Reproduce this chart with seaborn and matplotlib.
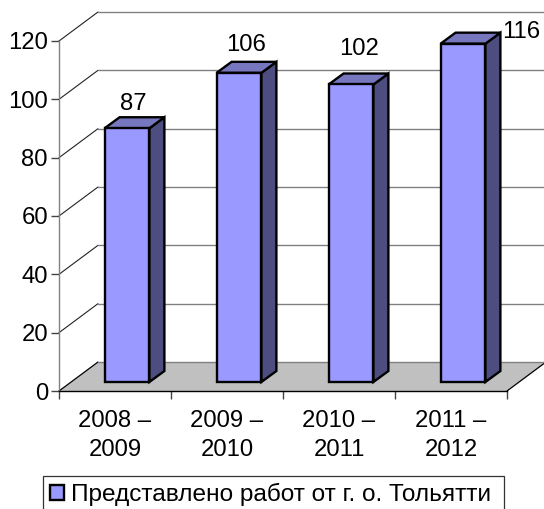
import matplotlib
matplotlib.use('Agg')
import matplotlib.pyplot as plt
import pandas as pd
import seaborn as sns
from matplotlib.patches import Patch, Polygon, Rectangle
from matplotlib.transforms import Affine2D, IdentityTransform

# Chart values
SEASONS = ['2008 –\n2009', '2009 –\n2010', '2010 –\n2011', '2011 –\n2012']
WORKS = [87, 106, 102, 116]
Y_TICKS = [0, 20, 40, 60, 80, 100, 120]
SERIES_NAME = 'Представлено работ от г. о. Тольятти'

# Fake 3D look, in pixels
WALL_DX, WALL_DY = 39, 29
BAR_DX, BAR_DY = 12, 9
DEPTH_DX, DEPTH_DY = 15, 11
LABEL_SHIFT = [(6, 24), (7, 28), (8, 35), (58, 12)]

FRONT = '#9999FF'
TOP = '#7777C0'
SIDE = '#4D4D80'
FLOOR = '#C0C0C0'
GRID = '#808080'
FONT_SIZE = 17.2

W, H = 544, 509


def shifted(ax, x, y, dx, dy):
    px, py = ax.transData.transform((x, y))
    return px + dx, py + dy


def pixel_poly(ax, points, **kwargs):
    ax.add_patch(Polygon(points, closed=True, transform=IdentityTransform(), clip_on=False, **kwargs))


def pixel_line(ax, p1, p2, **kwargs):
    ax.plot([p1[0], p2[0]], [p1[1], p2[1]], transform=IdentityTransform(), clip_on=False,
            scalex=False, scaley=False, **kwargs)


def main():
    sns.set_style('white')
    plt.rcParams['font.family'] = ['Liberation Sans', 'DejaVu Sans']

    fig = plt.figure(figsize=(W / 100, H / 100), dpi=100)
    ax = fig.add_axes([59 / W, (H - 391) / H, 448 / W, 350 / H])
    ax.patch.set_alpha(0)

    data = pd.DataFrame({'season': SEASONS, 'works': WORKS})
    sns.barplot(data=data, x='season', y='works', width=0.4, color=FRONT, saturation=1, ax=ax, zorder=5)
    ax.set_xlim(-0.5, 3.5)
    ax.set_ylim(0, 120)
    fig.canvas.draw()

    # floor
    a = shifted(ax, -0.5, 0, 0, 0)
    b = shifted(ax, 3.5, 0, 0, 0)
    c = shifted(ax, 3.5, 0, WALL_DX, WALL_DY)
    d = shifted(ax, -0.5, 0, WALL_DX, WALL_DY)
    pixel_poly(ax, [a, b, c, d], facecolor=FLOOR, edgecolor='none', zorder=1)
    pixel_line(ax, b, c, color='black', lw=0.9, zorder=2)
    pixel_line(ax, a, d, color='black', lw=0.9, zorder=2)
    pixel_line(ax, d, c, color=GRID, lw=1.0, zorder=2)

    # walls
    for t in Y_TICKS[1:]:
        p0 = shifted(ax, -0.5, t, 0, 0)
        p1 = shifted(ax, -0.5, t, WALL_DX, WALL_DY)
        p2 = shifted(ax, 3.5, t, WALL_DX, WALL_DY)
        pixel_line(ax, p0, p1, color='#222222', lw=0.8, zorder=2)
        pixel_line(ax, p1, p2, color=GRID, lw=1.0, zorder=2)

    # bars: move the front faces off the axis plane, then add top and side
    offset = ax.transData + Affine2D().translate(BAR_DX, BAR_DY)
    for i, bar in enumerate(ax.patches[:len(WORKS)]):
        bar.set_transform(offset)
        bar.set_edgecolor('black')
        bar.set_linewidth(1.7)
        bar.set_clip_on(False)
        x0, x1 = bar.get_x(), bar.get_x() + bar.get_width()
        v = bar.get_height()
        fl = shifted(ax, x0, v, BAR_DX, BAR_DY)
        fr = shifted(ax, x1, v, BAR_DX, BAR_DY)
        br = shifted(ax, x1, 0, BAR_DX, BAR_DY)
        back = lambda p: (p[0] + DEPTH_DX, p[1] + DEPTH_DY)
        style = dict(edgecolor='black', linewidth=1.7, joinstyle='miter', zorder=4)
        pixel_poly(ax, [fr, br, back(br), back(fr)], facecolor=SIDE, **style)
        pixel_poly(ax, [fl, fr, back(fr), back(fl)], facecolor=TOP, **style)

        sx, sy = LABEL_SHIFT[i]
        tx, ty = shifted(ax, (x0 + x1) / 2, v, BAR_DX + sx, BAR_DY + sy)
        ax.text(tx, ty, str(WORKS[i]), transform=IdentityTransform(), ha='center', va='center',
                fontsize=FONT_SIZE, color='black', zorder=6, clip_on=False)

    # axes
    for side in ['top', 'right']:
        ax.spines[side].set_visible(False)
    ax.spines['left'].set_color(GRID)
    ax.spines['left'].set_linewidth(1.0)
    ax.spines['bottom'].set_color('black')
    ax.spines['bottom'].set_linewidth(1.0)
    ax.spines['bottom'].set_zorder(3)

    ax.set_yticks(Y_TICKS)
    ax.set_xticks([i - 0.5 for i in range(len(SEASONS) + 1)], minor=True)
    ax.tick_params(axis='y', left=True, length=6, width=1.0, color='#444444', labelsize=FONT_SIZE, pad=2)
    ax.tick_params(axis='x', which='major', bottom=False, labelsize=FONT_SIZE, pad=10)
    ax.tick_params(axis='x', which='minor', bottom=True, length=6, width=1.0, color='#444444')
    ax.set_xlabel('')
    ax.set_ylabel('')
    for label in ax.get_yticklabels() + ax.get_xticklabels():
        label.set_color('black')
    for label in ax.get_xticklabels():
        label.set_linespacing(1.4)

    # legend box runs off the bottom of the picture, like the original
    fig.add_artist(Rectangle((43 / W, -0.02), 461 / W, (H - 476) / H + 0.02, transform=fig.transFigure,
                             facecolor='white', edgecolor='#333333', linewidth=0.9))
    handle = Patch(facecolor=FRONT, edgecolor='black', linewidth=1.7, label=SERIES_NAME)
    fig.legend(handles=[handle], loc='lower left', bbox_to_anchor=(47 / W, 0),
               borderaxespad=0, borderpad=0.12, fontsize=17.6, frameon=False,
               handlelength=0.58, handleheight=0.58, handletextpad=0.3, labelcolor='black')

    fig.savefig('out.png', dpi=100)


if __name__ == '__main__':
    main()
